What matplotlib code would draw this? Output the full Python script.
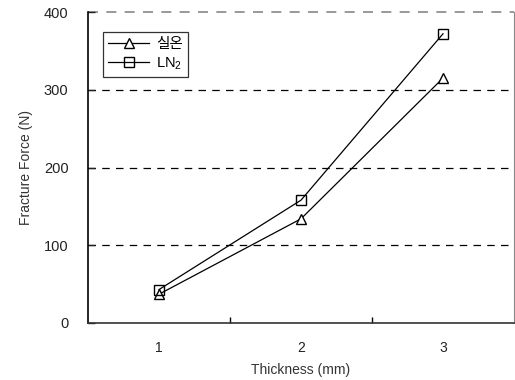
import matplotlib
matplotlib.use("Agg")
import matplotlib.pyplot as plt

plt.rcParams['font.family'] = ['Liberation Sans', 'Noto Sans CJK KR']
plt.rcParams['mathtext.fontset'] = 'custom'
plt.rcParams['mathtext.rm'] = 'Liberation Sans'

thickness = [1, 2, 3]
room_temp = [37, 134, 315]
ln2 = [43, 158, 372]
labels = ['실온', 'LN$_2$']
yticks = [0, 100, 200, 300, 400]

fig = plt.figure(figsize=(5.15, 3.8), dpi=100)
ax = fig.add_axes([88/515, 1-323/380, 426/515, 311/380])

ax.plot(thickness, room_temp, color='black', lw=0.9, marker='^', ms=7.5,
        mfc='white', mec='black', mew=1.0, label=labels[0])
ax.plot(thickness, ln2, color='black', lw=0.9, marker='s', ms=7,
        mfc='none', mec='black', mew=1.0, label=labels[1])

ax.set_xlim(0.5, 3.5)
ax.set_ylim(0, 400)
ax.set_yticks(yticks)
ax.set_xticks(thickness)
ax.set_xticks([1.5, 2.5], minor=True)
ax.tick_params(axis='x', which='major', length=0, pad=13, labelsize=10, colors='#222222')
ax.tick_params(axis='x', which='minor', direction='in', length=4, width=1)
ax.tick_params(axis='y', direction='in', length=5, width=1, pad=14, labelsize=10.5, colors='#222222')

for y in [100, 200, 300]:
    ax.axhline(y, color='black', lw=0.9, ls=(0, (6, 5)), zorder=0)
ax.axhline(400, color='#888888', lw=1.2, ls=(0, (6, 5)), zorder=0, clip_on=False)

ax.spines['top'].set_visible(False)
ax.spines['right'].set_color('#888888')
ax.spines['left'].set_linewidth(1.2)
ax.spines['bottom'].set_linewidth(1.2)
ax.spines['bottom'].set_color('#333333')

ax.set_xlabel('Thickness (mm)', fontsize=10, color='#333333', labelpad=6)
ax.set_ylabel('Fracture Force (N)', fontsize=10, color='#333333', labelpad=8)

leg = ax.legend(loc='upper left', bbox_to_anchor=((103-88)/426, (323-32)/311),
                borderaxespad=0, fontsize=10.5,
                frameon=True, fancybox=False, edgecolor='black',
                handlelength=2.8, handletextpad=0.5, borderpad=0.35, labelspacing=0.3)
leg.get_frame().set_linewidth(0.9)

fig.savefig('out.png', dpi=100)
